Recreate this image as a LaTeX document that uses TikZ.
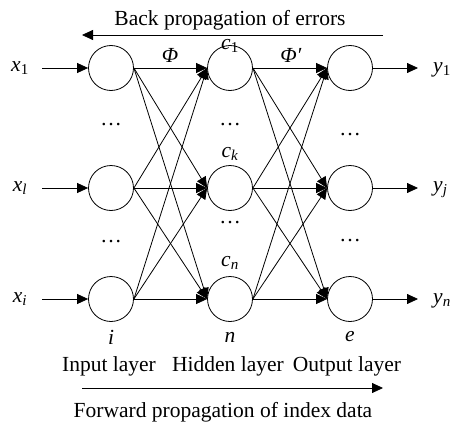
\documentclass[tikz,border=0pt]{standalone}
\usepackage{fontspec}
\setmainfont{Liberation Serif}
\usetikzlibrary{arrows.meta}
\newcommand{\sub}[2]{\textit{#1}\textsubscript{\textit{#2}}}
\newcommand{\subup}[2]{\textit{#1}\textsubscript{#2}}
\tikzset{
  neuron/.style={circle, draw, line width=0.8pt, minimum size=45pt, inner sep=0pt},
  arr/.style={line width=0.8pt, -{Triangle[length=11pt,width=10pt]}},
  lbl/.style={inner sep=0pt, font=\fontsize{21.5}{24}\selectfont},
  dots/.style={inner sep=0pt, font=\fontsize{21.5}{24}\selectfont},
}
\begin{document}
\begin{tikzpicture}[x=1pt,y=-1pt]
\useasboundingbox (0,0) rectangle (450,423);
% neurons
\foreach \n/\x in {I/111,H/230,O/350}{
  \node[neuron] (\n1) at (\x,68) {};
  \node[neuron] (\n2) at (\x,188) {};
  \node[neuron] (\n3) at (\x,299) {};
}
% inputs and outputs
\node[lbl] (x1) at (20,68) {\subup{x}{1}};
\node[lbl] (x2) at (20,188) {\sub{x}{l}};
\node[lbl] (x3) at (20,299) {\sub{x}{i}};
\node[lbl,anchor=west] (y1) at (433,70) {\subup{y}{1}};
\node[lbl,anchor=west] (y2) at (433,190) {\sub{y}{j}};
\node[lbl,anchor=west] (y3) at (433,301) {\sub{y}{n}};
\foreach \k in {1,2,3}{
  \draw[arr] (42,0 |- I\k) -- (I\k.west);
  \draw[arr] (O\k.east) -- (418,0 |- O\k);
}
% full connections
\foreach \a in {1,2,3}{
  \foreach \b in {1,2,3}{
    \draw[arr] (I\a.east) -- (H\b.west);
    \draw[arr] (H\a.east) -- (O\b.west);
  }
}
% weight labels and node names
\node[lbl] (phi) at (170,55) {\textit{Φ}};
\node[lbl] (phip) at (291,55) {\textit{Φ′}};
\node[lbl] (c1) at (230,46) {\subup{c}{1}};
\node[lbl] (ck) at (230,154) {\sub{c}{k}};
\node[lbl] (cn) at (230,263) {\sub{c}{n}};
% ellipses
\node[dots] (d1) at (111,125) {\ldots};
\node[dots] (d2) at (111,242) {\ldots};
\node[dots] (d3) at (230,125) {\ldots};
\node[dots] (d4) at (230,223) {\ldots};
\node[dots] (d5) at (350,135) {\ldots};
\node[dots] (d6) at (350,241) {\ldots};
% layer labels
\node[lbl] (li) at (111,337) {\textit{i}};
\node[lbl] (ln) at (230,337) {\textit{n}};
\node[lbl] (le) at (350,337) {\textit{e}};
\node[lbl] (in) at (109,366) {Input layer};
\node[lbl] (hid) at (228,366) {Hidden layer};
\node[lbl] (out) at (347,366) {Output layer};
% propagation directions
\node[lbl] (back) at (230,20) {Back propagation of errors};
\coordinate (bs) at (383,35);
\coordinate (be) at (82,35);
\draw[arr] (bs) -- (be);
\coordinate (fs) at (82,388);
\coordinate (fe) at (383,388);
\draw[arr] (fs) -- (fe);
\node[lbl] (fwd) at (223,412) {Forward propagation of index data};
\end{tikzpicture}
\end{document}
